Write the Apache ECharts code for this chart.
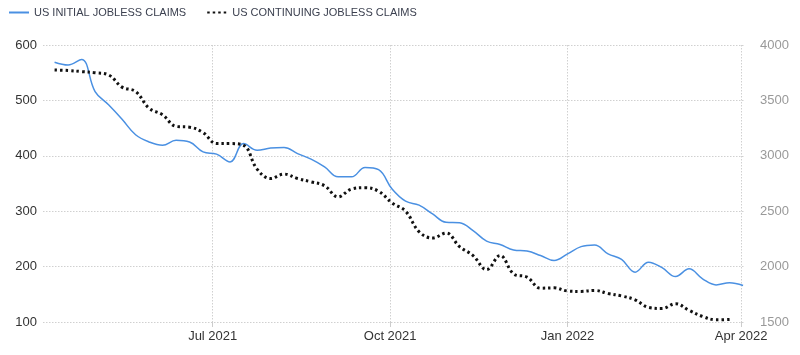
<!DOCTYPE html>
<html>
<head>
<meta charset="utf-8">
<script src="https://cdn.jsdelivr.net/npm/echarts@6/dist/echarts.min.js"></script>
<style>html,body{margin:0;padding:0;background:#fff}#c{width:800px;height:355px}</style>
</head>
<body>
<div id="c"></div>
<script>
const startDate = '2021-04-10';
const seriesNames = ['US INITIAL JOBLESS CLAIMS', 'US CONTINUING JOBLESS CLAIMS'];
const initialClaims = [569, 564, 574, 516, 492, 466, 438, 425, 419, 428, 425, 407, 403, 389, 422, 410, 414, 415, 404, 394, 380, 362, 362, 379, 375, 340, 318, 311, 295, 280, 279, 265, 246, 240, 230, 228, 220, 211, 223, 236, 239, 223, 213, 190, 208, 198, 182, 196, 178, 167, 171, 166];
const continuingClaims = [3774, 3770, 3760, 3750, 3730, 3620, 3580, 3430, 3370, 3265, 3258, 3210, 3110, 3110, 3095, 2880, 2795, 2835, 2795, 2765, 2730, 2629, 2700, 2712, 2680, 2575, 2500, 2315, 2258, 2303, 2180, 2100, 1972, 2100, 1935, 1905, 1805, 1808, 1780, 1776, 1785, 1757, 1735, 1700, 1632, 1622, 1665, 1605, 1550, 1520, 1523];
const xTicks = ['2021-07-01', '2021-10-01', '2022-01-01', '2022-04-01'];
const leftTicks = [100, 200, 300, 400, 500, 600];
const rightTicks = [1500, 2000, 2500, 3000, 3500, 4000];

const DAY = 86400000;
const toTs = s => { const p = s.split('-').map(Number); return Date.UTC(p[0], p[1] - 1, p[2]); };
const t0 = toTs(startDate);
const weekDate = i => t0 + i * 7 * DAY;
const MON = ['Jan','Feb','Mar','Apr','May','Jun','Jul','Aug','Sep','Oct','Nov','Dec'];
const tickVals = xTicks.map(toTs);

const chart = echarts.init(document.getElementById('c'), null, {renderer: 'canvas'});
chart.setOption({
  animation: false,
  textStyle: {fontFamily: 'Liberation Sans, Arial, sans-serif'},
  legend: {
    left: 3, top: 2, itemWidth: 20, itemHeight: 10, itemGap: 20,
    itemStyle: {opacity: 0},
    textStyle: {fontSize: 11, color: '#3c4150', fontFamily: 'Liberation Sans, Arial, sans-serif'},
    data: seriesNames
  },
  grid: {left: 43, right: 55, top: 45, bottom: 33, containLabel: false},
  xAxis: {
    type: 'value',
    min: toTs('2021-04-04'), max: toTs('2022-04-03'),
    axisLine: {show: false},
    axisTick: {show: true, length: 5, lineStyle: {color: '#ccc'}, customValues: tickVals},
    axisLabel: {
      customValues: tickVals, fontSize: 13, color: '#333', margin: 8,
      formatter: v => { const d = new Date(v); return MON[d.getUTCMonth()] + ' ' + d.getUTCFullYear(); }
    },
    splitLine: {show: true, lineStyle: {color: '#d0d0d0', type: [1.5, 1.5]}}
  },
  yAxis: [
    {
      type: 'value', min: leftTicks[0], max: leftTicks[leftTicks.length - 1], interval: 100,
      axisLine: {show: false}, axisTick: {show: false},
      axisLabel: {fontSize: 13, color: '#333', margin: 6},
      splitLine: {show: true, lineStyle: {color: '#d0d0d0', type: [1.5, 1.5]}}
    },
    {
      type: 'value', min: rightTicks[0], max: rightTicks[rightTicks.length - 1], interval: 500,
      position: 'right',
      axisLine: {show: false}, axisTick: {show: false},
      axisLabel: {fontSize: 13, color: '#999', margin: 15, formatter: v => String(v)},
      splitLine: {show: false}
    }
  ],
  series: [
    {
      name: seriesNames[0], type: 'line', yAxisIndex: 0, smooth: 0.4,
      symbol: 'none', showSymbol: false,
      lineStyle: {color: '#4a90e2', width: 1.5},
      itemStyle: {color: '#4a90e2'},
      data: initialClaims.map((v, i) => [weekDate(i), v])
    },
    {
      name: seriesNames[1], type: 'line', yAxisIndex: 1, smooth: 0.4,
      symbol: 'none', showSymbol: false,
      lineStyle: {color: '#111', width: 3, type: [2.5, 3]},
      itemStyle: {color: '#111'},
      data: continuingClaims.map((v, i) => [weekDate(i), v])
    }
  ]
});
</script>
</body>
</html>
